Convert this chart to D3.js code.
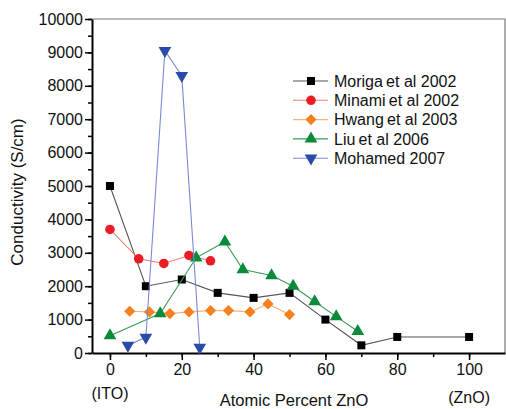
<!DOCTYPE html>
<html>
<head>
<meta charset="utf-8">
<script src="https://cdn.jsdelivr.net/npm/d3@7"></script>
<style>
  body { margin: 0; background: #fff; }
  svg { font-family: "Liberation Sans", Arial, sans-serif; }
</style>
</head>
<body>
<svg width="506" height="409"></svg>
<script>
// data
const morigaX = [0, 10, 20, 30, 40, 50, 60, 70, 80, 100];
const morigaY = [5000, 2000, 2200, 1800, 1650, 1800, 1000, 230, 480, 480];
const minamiX = [0, 8, 15, 22, 28];
const minamiY = [3700, 2820, 2680, 2920, 2760];
const hwangX = [5.5, 11, 16.7, 22, 28, 33, 39, 44, 50];
const hwangY = [1250, 1230, 1180, 1230, 1270, 1270, 1230, 1470, 1150];
const liuX = [0, 14, 24, 32, 37, 45, 51, 57, 63, 69];
const liuY = [520, 1180, 2850, 3330, 2500, 2320, 2000, 1540, 1090, 650];
const mohamedX = [5, 10, 15.3, 20, 25];
const mohamedY = [230, 470, 9050, 8300, 170];
const seriesNames = ["Moriga\u2009et al 2002", "Minami\u2009et al 2002", "Hwang\u2009et al 2003", "Liu\u2009et al 2006", "Mohamed 2007"];
const xTicks = [0, 20, 40, 60, 80, 100];
const yTicks = [0, 1000, 2000, 3000, 4000, 5000, 6000, 7000, 8000, 9000, 10000];

const svg = d3.select("svg"),
  margin = { top: 19, right: 1, bottom: 56, left: 92 },
  width = +svg.attr("width") - margin.left - margin.right,
  height = +svg.attr("height") - margin.top - margin.bottom;

const x = d3.scaleLinear().domain([-5, 110]).range([0, width]);
const y = d3.scaleLinear().domain([0, 10000]).range([height, 0]);

const g = svg.append("g")
  .attr("transform", "translate(" + margin.left + "," + margin.top + ")");

// frame (top + right)
g.append("path")
  .attr("d", "M0,0H" + width + "V" + height)
  .attr("fill", "none")
  .attr("stroke", "#777")
  .attr("stroke-width", 1.2);

// minor ticks
g.append("g")
  .attr("transform", "translate(0," + height + ")")
  .call(d3.axisBottom(x).tickValues(d3.range(0, 110, 10)).tickSize(4).tickFormat(""))
  .call(a => a.select(".domain").remove())
  .selectAll("line").attr("stroke-width", 1.5);
g.append("g")
  .call(d3.axisLeft(y).tickValues(d3.range(0, 10001, 500)).tickSize(4).tickFormat(""))
  .call(a => a.select(".domain").remove())
  .selectAll("line").attr("stroke-width", 1.5);

// major axes
const xAxis = g.append("g")
  .attr("transform", "translate(0," + height + ")")
  .call(d3.axisBottom(x).tickValues(xTicks).tickSize(7).tickSizeOuter(0).tickPadding(4).tickFormat(d3.format("d")));
const yAxis = g.append("g")
  .call(d3.axisLeft(y).tickValues(yTicks).tickSize(7).tickSizeOuter(0).tickPadding(2).tickFormat(d3.format("d")));

[xAxis, yAxis].forEach(a => {
  a.select(".domain").attr("stroke-width", 2);
  a.selectAll("line").attr("stroke-width", 1.5);
  a.selectAll("text").attr("font-size", 16).attr("fill", "#111")
    .attr("font-family", "Liberation Sans, Arial, sans-serif");
});

g.append("text").attr("x", x(0)).attr("y", height + 46)
  .attr("text-anchor", "middle").attr("font-size", 16).attr("fill", "#111").text("(ITO)");
g.append("text").attr("x", x(100)).attr("y", height + 50)
  .attr("text-anchor", "middle").attr("font-size", 16).attr("fill", "#111").text("(ZnO)");

svg.append("text")
  .attr("x", 294).attr("y", 406)
  .attr("text-anchor", "middle").attr("font-size", 16.5).attr("fill", "#111")
  .text("Atomic Percent ZnO");

svg.append("text")
  .attr("transform", "translate(23,192) rotate(-90)")
  .attr("text-anchor", "middle").attr("font-size", 17).attr("fill", "#111")
  .text("Conductivity (S/cm)");

// series
const series = [
  { xs: morigaX, ys: morigaY, line: "#555", fill: "#000", sym: d3.symbolSquare, size: 64, rot: 0 },
  { xs: minamiX, ys: minamiY, line: "#f07a7a", fill: "#ec1c24", sym: d3.symbolCircle, size: 72, rot: 0 },
  { xs: hwangX, ys: hwangY, line: "#f9b27a", fill: "#f7801e", sym: d3.symbolSquare, size: 62, rot: 45 },
  { xs: liuX, ys: liuY, line: "#3a9a58", fill: "#0b8a3c", sym: d3.symbolTriangle, size: 70, rot: 0 },
  { xs: mohamedX, ys: mohamedY, line: "#7b8ad2", fill: "#2b4ba8", sym: d3.symbolTriangle, size: 70, rot: 180 }
];

const line = d3.line().x(d => x(d[0])).y(d => y(d[1]));

series.forEach(s => {
  const pts = s.xs.map((v, i) => [v, s.ys[i]]);
  g.append("path").datum(pts)
    .attr("d", line)
    .attr("fill", "none")
    .attr("stroke", s.line)
    .attr("stroke-width", 1.1);
  g.selectAll(null).data(pts).enter().append("path")
    .attr("d", d3.symbol().type(s.sym).size(s.size))
    .attr("transform", d => "translate(" + x(d[0]) + "," + y(d[1]) + ") rotate(" + s.rot + ")")
    .attr("fill", s.fill);
});

// legend
const legend = svg.append("g");
series.forEach((s, i) => {
  const yy = 81 + i * 19.3;
  legend.append("line").attr("x1", 293).attr("x2", 328).attr("y1", yy).attr("y2", yy)
    .attr("stroke", s.line).attr("stroke-width", 1.1);
  legend.append("path")
    .attr("d", d3.symbol().type(s.sym).size(s.size))
    .attr("transform", "translate(311," + yy + ") rotate(" + s.rot + ")")
    .attr("fill", s.fill);
  legend.append("text").attr("x", 334).attr("y", yy).attr("dy", "0.36em")
    .attr("font-size", 16).attr("fill", "#111").text(seriesNames[i]);
});
</script>
</body>
</html>
